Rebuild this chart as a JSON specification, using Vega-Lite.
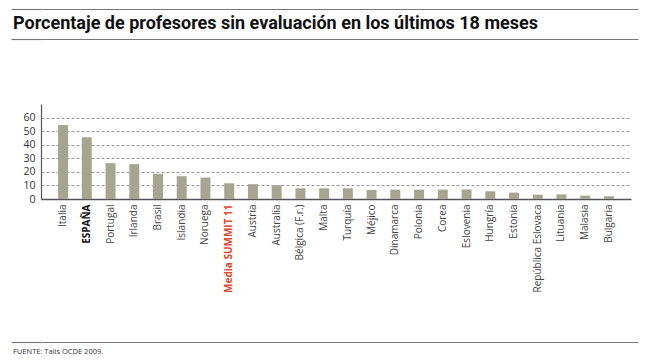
{
  "$schema": "https://vega.github.io/schema/vega-lite/v6.json",
  "padding": {"left": 10, "top": 8, "right": 5, "bottom": 0},
  "background": "white",
  "config": {"view": {"stroke": null}, "font": "Open Sans"},
  "spacing": 64,
  "vconcat": [
    {
      "width": 597,
      "height": 30,
      "data": {"values": [{"titulo": "Porcentaje de profesores sin evaluación en los últimos 18 meses"}]},
      "mark": {"type": "text", "align": "left", "baseline": "middle", "font": "Roboto", "fontWeight": "bold", "fontSize": 18, "color": "#111", "dx": -28},
      "encoding": {
        "x": {"datum": 0, "type": "quantitative", "scale": {"domain": [0, 1]}, "axis": null},
        "y": {"datum": 0.5, "type": "quantitative", "scale": {"domain": [0, 1]},
          "axis": {"title": null, "values": [0.01, 0.99], "labels": false, "domain": false, "ticks": true, "tickSize": 30, "tickColor": "#777", "tickWidth": 1.2,
            "grid": true, "gridColor": "#777", "gridWidth": 1.2, "gridOpacity": 1, "minExtent": 30, "maxExtent": 30}},
        "text": {"field": "titulo"}
      }
    },
    {
      "spacing": 48,
      "vconcat": [
        {
          "width": 590,
          "height": 95,
          "data": {"values": [
            {"pais": "Italia", "pct": 54.5},
            {"pais": "ESPAÑA", "pct": 45.5},
            {"pais": "Portugal", "pct": 26.4},
            {"pais": "Irlanda", "pct": 25.7},
            {"pais": "Brasil", "pct": 18.5},
            {"pais": "Islandia", "pct": 16.8},
            {"pais": "Noruega", "pct": 15.8},
            {"pais": "Media SUMMIT 11", "pct": 11.6},
            {"pais": "Austria", "pct": 10.9},
            {"pais": "Australia", "pct": 10.1},
            {"pais": "Bélgica (F.r.)", "pct": 7.9},
            {"pais": "Malta", "pct": 7.9},
            {"pais": "Turquía", "pct": 7.9},
            {"pais": "Méjico", "pct": 6.7},
            {"pais": "Dinamarca", "pct": 6.9},
            {"pais": "Polonia", "pct": 6.9},
            {"pais": "Corea", "pct": 6.9},
            {"pais": "Eslovenia", "pct": 7.0},
            {"pais": "Hungría", "pct": 5.7},
            {"pais": "Estonia", "pct": 4.7},
            {"pais": "República Eslovaca", "pct": 3.2},
            {"pais": "Lituania", "pct": 3.4},
            {"pais": "Malasia", "pct": 2.5},
            {"pais": "Bulgaria", "pct": 2.0}
          ]},
          "mark": {"type": "bar", "color": "#a6a58f"},
          "encoding": {
            "x": {
              "field": "pais", "type": "nominal", "sort": null,
              "scale": {"paddingInner": 0.58, "paddingOuter": 0.72},
              "axis": {
                "title": null, "labelAngle": -90, "labelAlign": "right", "labelBaseline": "middle",
                "labelFont": "Liberation Sans Narrow, Open Sans", "labelFontSize": 10, "labelPadding": 5,
                "labelColor": {"condition": [{"test": "datum.value == 'Media SUMMIT 11'", "value": "#e8452c"}, {"test": "datum.value == 'ESPAÑA'", "value": "#111"}], "value": "#444"},
                "labelFontWeight": {"condition": {"test": "datum.value == 'Media SUMMIT 11' || datum.value == 'ESPAÑA'", "value": "bold"}, "value": "normal"},
                "ticks": false, "tickSize": 0, "domainColor": "#555", "domainWidth": 1.5, "labelOverlap": false
              }
            },
            "y": {
              "field": "pct", "type": "quantitative",
              "scale": {"domain": [0, 70], "nice": false},
              "axis": {
                "title": null, "values": [0, 10, 20, 30, 40, 50, 60], "ticks": false, "tickSize": 0,
                "labelFont": "Open Sans", "labelFontSize": 10.5, "labelColor": "#333", "labelPadding": 6,
                "domainColor": "#555", "domainWidth": 1.2, "minExtent": 30, "maxExtent": 30,
                "grid": true, "gridDash": [3, 2], "gridColor": "#999", "gridWidth": 1
              }
            }
          }
        },
        {
          "width": 597,
          "height": 14,
          "data": {"values": [{"fuente": "FUENTE: Talis OCDE 2009."}]},
          "mark": {"type": "text", "align": "left", "baseline": "middle", "font": "Liberation Sans Narrow, Open Sans", "fontSize": 7.5, "color": "#333", "dx": -28},
          "encoding": {
            "x": {"datum": 0, "type": "quantitative", "scale": {"domain": [0, 1]}, "axis": null},
            "y": {"datum": 0.28, "type": "quantitative", "scale": {"domain": [0, 1]},
              "axis": {"title": null, "values": [0.99], "labels": false, "domain": false, "ticks": true, "tickSize": 30, "tickColor": "#777", "tickWidth": 1.2,
                "grid": true, "gridColor": "#777", "gridWidth": 1.2, "gridOpacity": 1, "minExtent": 30, "maxExtent": 30}},
            "text": {"field": "fuente"}
          }
        }
      ]
    }
  ]
}
